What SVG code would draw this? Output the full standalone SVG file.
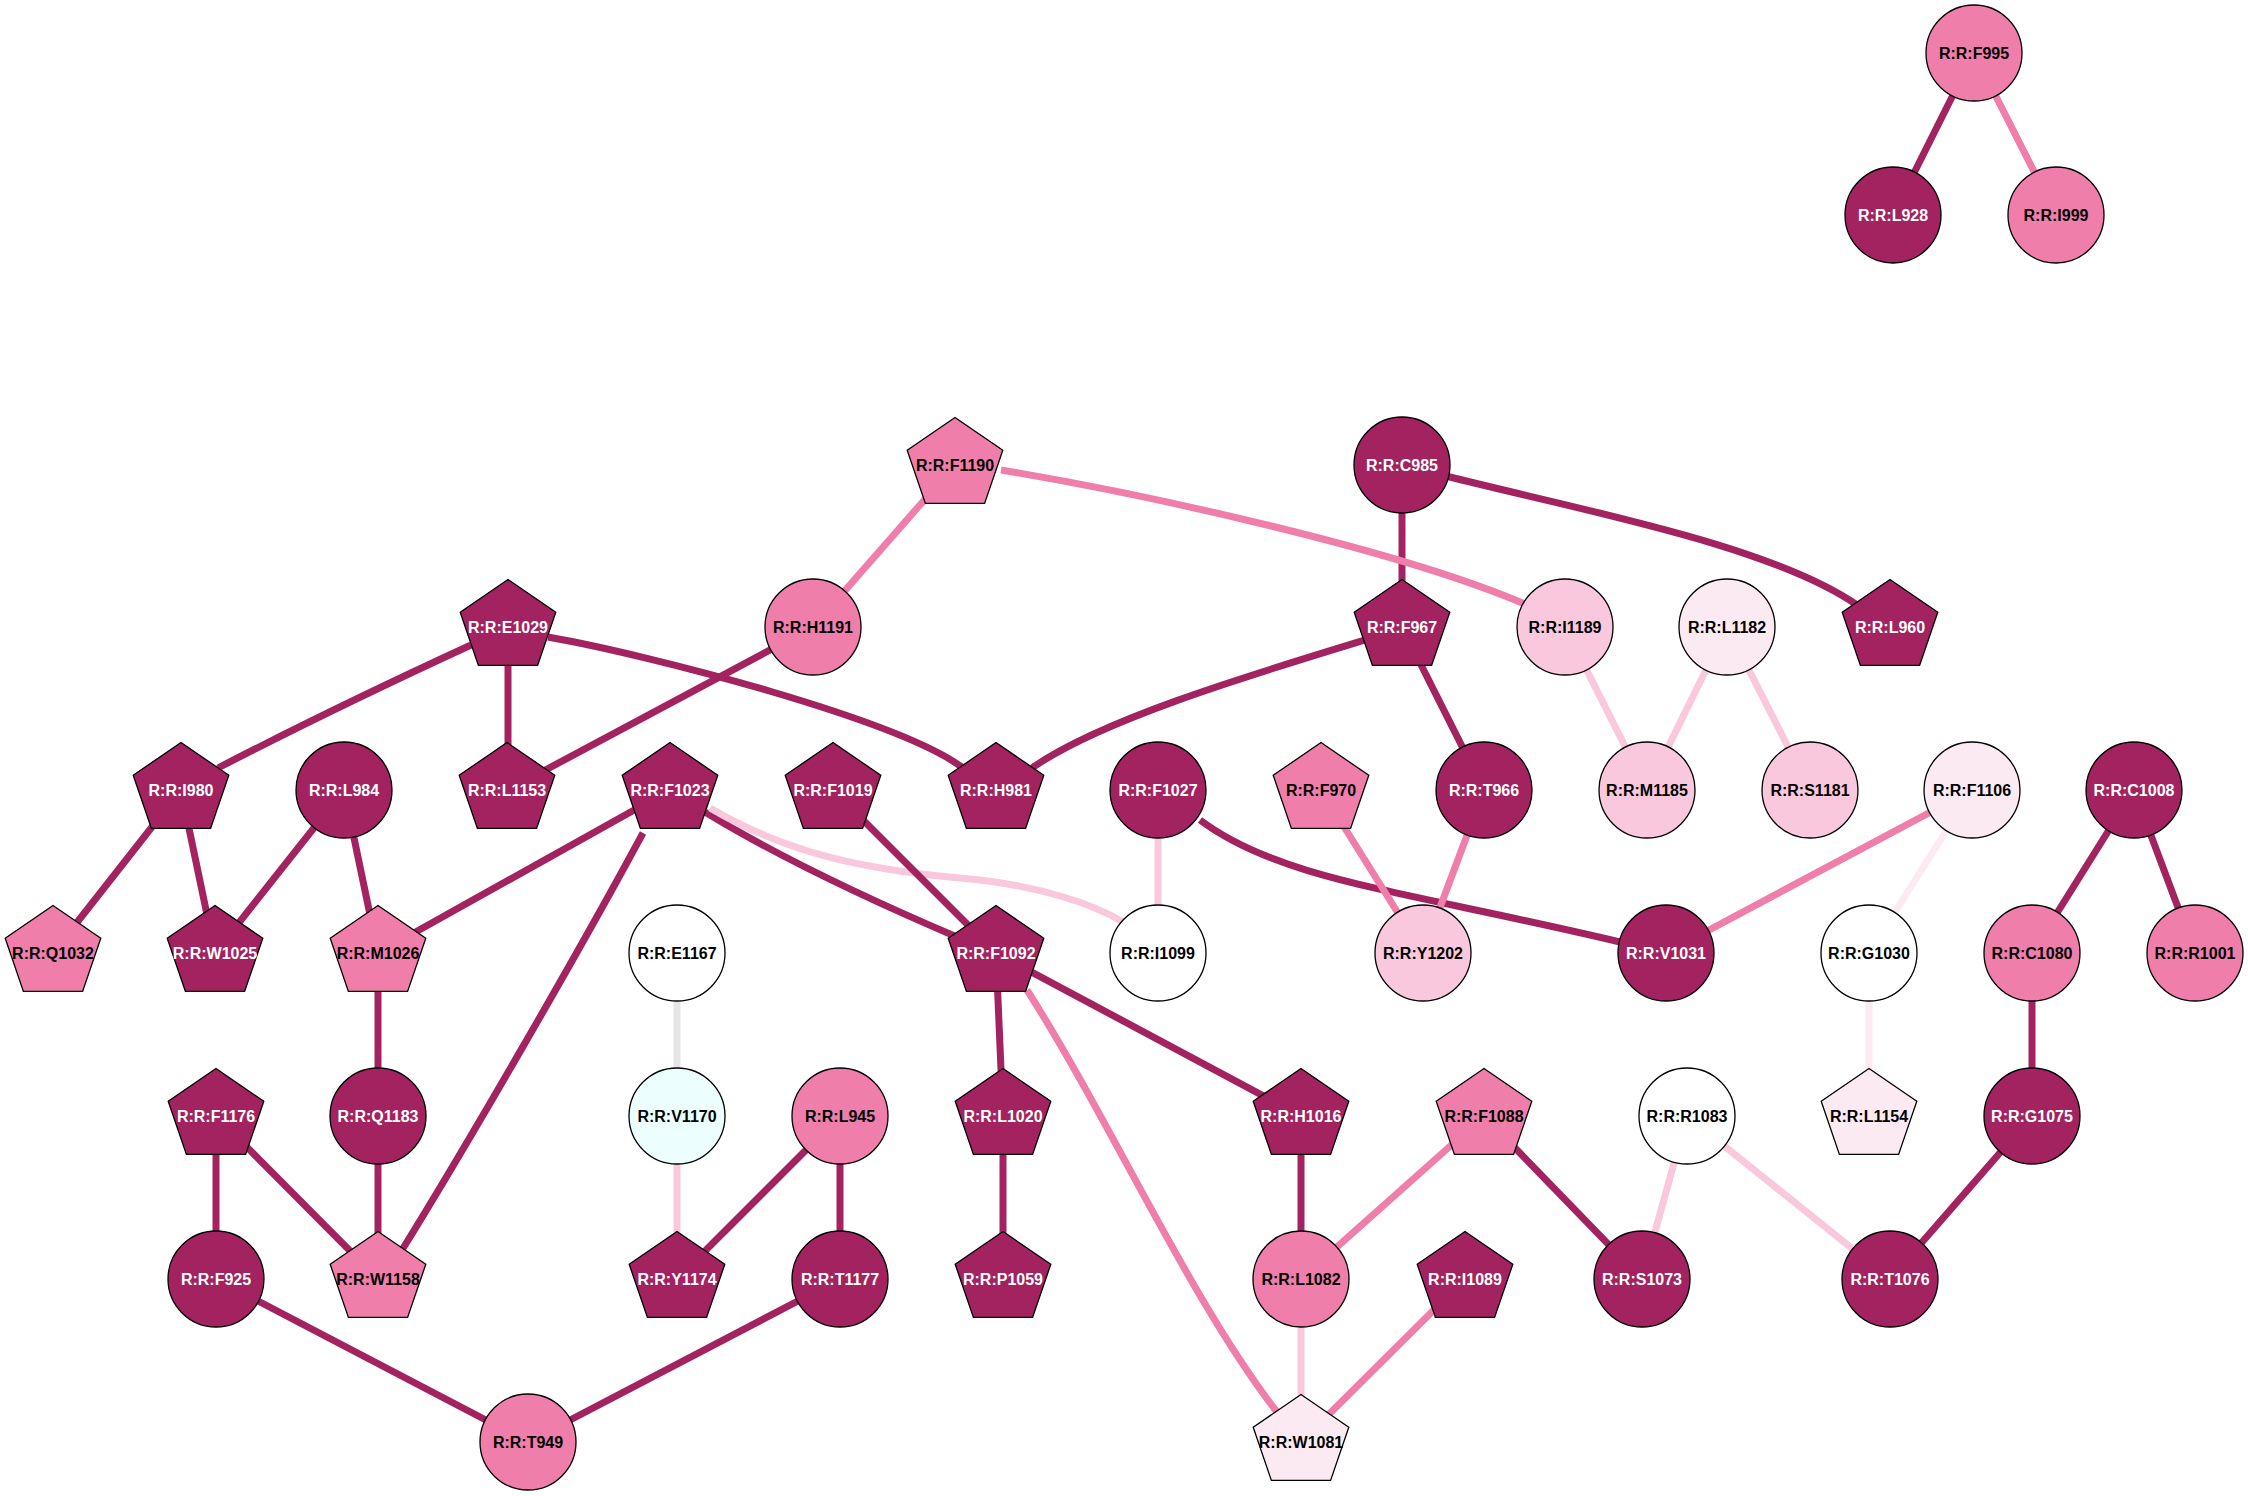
<svg xmlns="http://www.w3.org/2000/svg" xmlns:xlink="http://www.w3.org/1999/xlink" width="2248" height="1496" viewBox="0 0 2248 1496">
<style>
.e{fill:none;stroke-width:7}
.ed{stroke:#A2235F}.ep{stroke:#F07EAB}.el{stroke:#F9C8DC}.ev{stroke:#FCEAF2}.eg{stroke:#E5E5E5}
.n{stroke:#000;stroke-width:1.3}
.d{fill:#A2235F}.p{fill:#F07EAB}.l{fill:#F9C8DC}.v{fill:#FCEAF2}.w{fill:#FFFFFF}.c{fill:#EDFEFE}
text{font-family:"Liberation Sans",Arial,sans-serif;font-weight:bold;font-size:16px;text-anchor:middle}
.tw{fill:#FFFFFF}.tb{fill:#000000}
</style>
<defs>
<polygon id="pent" points="0,-47.5 47.8,-14.7 29.6,38.4 -29.6,38.4 -47.8,-14.7"/>
</defs>
<rect width="2248" height="1496" fill="#FFFFFF"/>
<g id="edges">
<path class="e ed" d="M1974,53 L1893,215"/>
<path class="e ep" d="M1974,53 L2056,215"/>
<path class="e ed" d="M1402,465 L1402,627"/>
<path class="e ed" d="M1446,476 C1580,510 1770,545 1857,605"/>
<path class="e ep" d="M955,465 L813,627"/>
<path class="e ep" d="M1001,470 C1150,495 1400,550 1527,605"/>
<path class="e ed" d="M813,627 L508,790"/>
<path class="e ed" d="M471,645 Q330,710 218,768"/>
<path class="e ed" d="M508,627 L508,790"/>
<path class="e ed" d="M548,637 C650,655 900,720 963,768"/>
<path class="e ed" d="M1365,640 C1250,675 1100,720 1032,768"/>
<path class="e ed" d="M1402,627 L1484,790"/>
<path class="e el" d="M1565,627 L1647,790"/>
<path class="e el" d="M1727,627 L1647,790"/>
<path class="e el" d="M1727,627 L1810,790"/>
<path class="e ed" d="M181,790 L53,953"/>
<path class="e ed" d="M181,790 L215,953"/>
<path class="e ed" d="M344,790 L215,953"/>
<path class="e ed" d="M344,790 L378,953"/>
<path class="e ed" d="M670,790 L378,953"/>
<path class="e ed" d="M643,833 C580,950 470,1140 402,1250"/>
<path class="e ed" d="M705,812 Q800,870 957,937"/>
<path class="e el" d="M710,808 C790,855 870,870 960,878 C1040,885 1095,905 1123,922"/>
<path class="e ed" d="M833,790 L996,953"/>
<path class="e el" d="M1158,790 L1158,953"/>
<path class="e ed" d="M1200,820 C1280,880 1400,890 1620,942"/>
<path class="e ep" d="M1321,790 L1423,953"/>
<path class="e ep" d="M1484,790 L1423,953"/>
<path class="e ep" d="M1972,790 L1666,953"/>
<path class="e ev" d="M1972,790 L1869,953"/>
<path class="e ed" d="M2134,790 L2032,953"/>
<path class="e ed" d="M2134,790 L2195,953"/>
<path class="e ed" d="M378,953 L378,1116"/>
<path class="e eg" d="M677,953 L677,1116"/>
<path class="e ed" d="M996,953 L1003,1116"/>
<path class="e ed" d="M996,953 L1301,1116"/>
<path class="e ep" d="M1027,990 C1110,1120 1190,1300 1277,1412"/>
<path class="e ed" d="M2032,953 L2032,1116"/>
<path class="e ev" d="M1869,953 L1869,1116"/>
<path class="e ed" d="M216,1116 L216,1279"/>
<path class="e ed" d="M216,1116 L378,1279"/>
<path class="e ed" d="M378,1116 L378,1279"/>
<path class="e el" d="M677,1116 L677,1279"/>
<path class="e ed" d="M840,1116 L677,1279"/>
<path class="e ed" d="M840,1116 L840,1279"/>
<path class="e ed" d="M1003,1116 L1003,1279"/>
<path class="e ed" d="M1301,1116 L1301,1279"/>
<path class="e ep" d="M1484,1116 L1301,1279"/>
<path class="e ed" d="M1484,1116 L1642,1279"/>
<path class="e el" d="M1687,1116 L1642,1279"/>
<path class="e el" d="M1687,1116 L1890,1279"/>
<path class="e ed" d="M2032,1116 L1890,1279"/>
<path class="e ed" d="M216,1279 L528,1442"/>
<path class="e ed" d="M840,1279 L528,1442"/>
<path class="e el" d="M1301,1279 L1301,1442"/>
<path class="e ep" d="M1465,1279 L1301,1442"/>
</g>
<g id="F995"><circle class="n p" cx="1974" cy="53" r="48"/><text class="tb" x="1974" y="59">R:R:F995</text></g>
<g id="L928"><circle class="n d" cx="1893" cy="215" r="48"/><text class="tw" x="1893" y="221">R:R:L928</text></g>
<g id="I999"><circle class="n p" cx="2056" cy="215" r="48"/><text class="tb" x="2056" y="221">R:R:I999</text></g>
<g id="F1190"><use xlink:href="#pent" class="n p" x="955" y="465"/><text class="tb" x="955" y="471">R:R:F1190</text></g>
<g id="C985"><circle class="n d" cx="1402" cy="465" r="48"/><text class="tw" x="1402" y="471">R:R:C985</text></g>
<g id="E1029"><use xlink:href="#pent" class="n d" x="508" y="627"/><text class="tw" x="508" y="633">R:R:E1029</text></g>
<g id="H1191"><circle class="n p" cx="813" cy="627" r="48"/><text class="tb" x="813" y="633">R:R:H1191</text></g>
<g id="F967"><use xlink:href="#pent" class="n d" x="1402" y="627"/><text class="tw" x="1402" y="633">R:R:F967</text></g>
<g id="I1189"><circle class="n l" cx="1565" cy="627" r="48"/><text class="tb" x="1565" y="633">R:R:I1189</text></g>
<g id="L1182"><circle class="n v" cx="1727" cy="627" r="48"/><text class="tb" x="1727" y="633">R:R:L1182</text></g>
<g id="L960"><use xlink:href="#pent" class="n d" x="1890" y="627"/><text class="tw" x="1890" y="633">R:R:L960</text></g>
<g id="I980"><use xlink:href="#pent" class="n d" x="181" y="790"/><text class="tw" x="181" y="796">R:R:I980</text></g>
<g id="L984"><circle class="n d" cx="344" cy="790" r="48"/><text class="tw" x="344" y="796">R:R:L984</text></g>
<g id="L1153"><use xlink:href="#pent" class="n d" x="507" y="790"/><text class="tw" x="507" y="796">R:R:L1153</text></g>
<g id="F1023"><use xlink:href="#pent" class="n d" x="670" y="790"/><text class="tw" x="670" y="796">R:R:F1023</text></g>
<g id="F1019"><use xlink:href="#pent" class="n d" x="833" y="790"/><text class="tw" x="833" y="796">R:R:F1019</text></g>
<g id="H981"><use xlink:href="#pent" class="n d" x="996" y="790"/><text class="tw" x="996" y="796">R:R:H981</text></g>
<g id="F1027"><circle class="n d" cx="1158" cy="790" r="48"/><text class="tw" x="1158" y="796">R:R:F1027</text></g>
<g id="F970"><use xlink:href="#pent" class="n p" x="1321" y="790"/><text class="tb" x="1321" y="796">R:R:F970</text></g>
<g id="T966"><circle class="n d" cx="1484" cy="790" r="48"/><text class="tw" x="1484" y="796">R:R:T966</text></g>
<g id="M1185"><circle class="n l" cx="1647" cy="790" r="48"/><text class="tb" x="1647" y="796">R:R:M1185</text></g>
<g id="S1181"><circle class="n l" cx="1810" cy="790" r="48"/><text class="tb" x="1810" y="796">R:R:S1181</text></g>
<g id="F1106"><circle class="n v" cx="1972" cy="790" r="48"/><text class="tb" x="1972" y="796">R:R:F1106</text></g>
<g id="C1008"><circle class="n d" cx="2134" cy="790" r="48"/><text class="tw" x="2134" y="796">R:R:C1008</text></g>
<g id="Q1032"><use xlink:href="#pent" class="n p" x="53" y="953"/><text class="tb" x="53" y="959">R:R:Q1032</text></g>
<g id="W1025"><use xlink:href="#pent" class="n d" x="215" y="953"/><text class="tw" x="215" y="959">R:R:W1025</text></g>
<g id="M1026"><use xlink:href="#pent" class="n p" x="378" y="953"/><text class="tb" x="378" y="959">R:R:M1026</text></g>
<g id="E1167"><circle class="n w" cx="677" cy="953" r="48"/><text class="tb" x="677" y="959">R:R:E1167</text></g>
<g id="F1092"><use xlink:href="#pent" class="n d" x="996" y="953"/><text class="tw" x="996" y="959">R:R:F1092</text></g>
<g id="I1099"><circle class="n w" cx="1158" cy="953" r="48"/><text class="tb" x="1158" y="959">R:R:I1099</text></g>
<g id="Y1202"><circle class="n l" cx="1423" cy="953" r="48"/><text class="tb" x="1423" y="959">R:R:Y1202</text></g>
<g id="V1031"><circle class="n d" cx="1666" cy="953" r="48"/><text class="tw" x="1666" y="959">R:R:V1031</text></g>
<g id="G1030"><circle class="n w" cx="1869" cy="953" r="48"/><text class="tb" x="1869" y="959">R:R:G1030</text></g>
<g id="C1080"><circle class="n p" cx="2032" cy="953" r="48"/><text class="tb" x="2032" y="959">R:R:C1080</text></g>
<g id="R1001"><circle class="n p" cx="2195" cy="953" r="48"/><text class="tb" x="2195" y="959">R:R:R1001</text></g>
<g id="F1176"><use xlink:href="#pent" class="n d" x="216" y="1116"/><text class="tw" x="216" y="1122">R:R:F1176</text></g>
<g id="Q1183"><circle class="n d" cx="378" cy="1116" r="48"/><text class="tw" x="378" y="1122">R:R:Q1183</text></g>
<g id="V1170"><circle class="n c" cx="677" cy="1116" r="48"/><text class="tb" x="677" y="1122">R:R:V1170</text></g>
<g id="L945"><circle class="n p" cx="840" cy="1116" r="48"/><text class="tb" x="840" y="1122">R:R:L945</text></g>
<g id="L1020"><use xlink:href="#pent" class="n d" x="1003" y="1116"/><text class="tw" x="1003" y="1122">R:R:L1020</text></g>
<g id="H1016"><use xlink:href="#pent" class="n d" x="1301" y="1116"/><text class="tw" x="1301" y="1122">R:R:H1016</text></g>
<g id="F1088"><use xlink:href="#pent" class="n p" x="1484" y="1116"/><text class="tb" x="1484" y="1122">R:R:F1088</text></g>
<g id="R1083"><circle class="n w" cx="1687" cy="1116" r="48"/><text class="tb" x="1687" y="1122">R:R:R1083</text></g>
<g id="L1154"><use xlink:href="#pent" class="n v" x="1869" y="1116"/><text class="tb" x="1869" y="1122">R:R:L1154</text></g>
<g id="G1075"><circle class="n d" cx="2032" cy="1116" r="48"/><text class="tw" x="2032" y="1122">R:R:G1075</text></g>
<g id="F925"><circle class="n d" cx="216" cy="1279" r="48"/><text class="tw" x="216" y="1285">R:R:F925</text></g>
<g id="W1158"><use xlink:href="#pent" class="n p" x="378" y="1279"/><text class="tb" x="378" y="1285">R:R:W1158</text></g>
<g id="Y1174"><use xlink:href="#pent" class="n d" x="677" y="1279"/><text class="tw" x="677" y="1285">R:R:Y1174</text></g>
<g id="T1177"><circle class="n d" cx="840" cy="1279" r="48"/><text class="tw" x="840" y="1285">R:R:T1177</text></g>
<g id="P1059"><use xlink:href="#pent" class="n d" x="1003" y="1279"/><text class="tw" x="1003" y="1285">R:R:P1059</text></g>
<g id="L1082"><circle class="n p" cx="1301" cy="1279" r="48"/><text class="tb" x="1301" y="1285">R:R:L1082</text></g>
<g id="I1089"><use xlink:href="#pent" class="n d" x="1465" y="1279"/><text class="tw" x="1465" y="1285">R:R:I1089</text></g>
<g id="S1073"><circle class="n d" cx="1642" cy="1279" r="48"/><text class="tw" x="1642" y="1285">R:R:S1073</text></g>
<g id="T1076"><circle class="n d" cx="1890" cy="1279" r="48"/><text class="tw" x="1890" y="1285">R:R:T1076</text></g>
<g id="T949"><circle class="n p" cx="528" cy="1442" r="48"/><text class="tb" x="528" y="1448">R:R:T949</text></g>
<g id="W1081"><use xlink:href="#pent" class="n v" x="1301" y="1442"/><text class="tb" x="1301" y="1448">R:R:W1081</text></g>
</svg>
